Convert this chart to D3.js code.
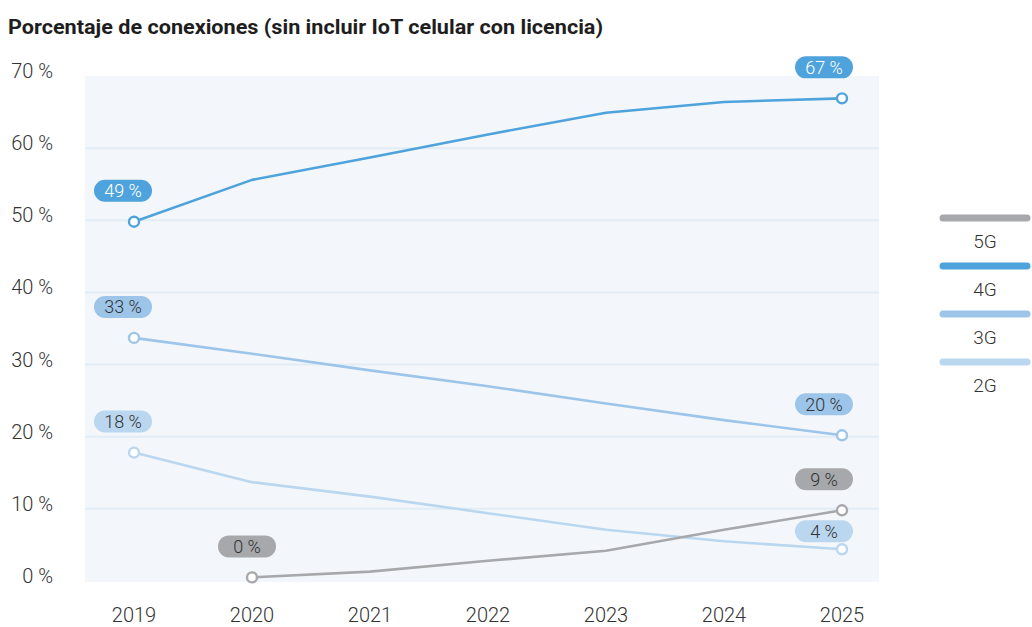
<!DOCTYPE html>
<html><head><meta charset="utf-8">
<script src="https://cdn.jsdelivr.net/npm/d3@7"></script>
<style>
body{margin:0;background:#fff;}
svg{display:block;}
</style></head>
<body><svg id="c" width="1032" height="627"></svg>
<script>
const title = "Porcentaje de conexiones (sin incluir IoT celular con licencia)";
const years = ["2019","2020","2021","2022","2023","2024","2025"];
const yTicks = [0,10,20,30,40,50,60,70];
const seriesNames = ["5G","4G","3G","2G"];
const s5G = [null,0.5,1.3,2.8,4.2,7.1,9.8];
const s4G = [49.8,55.6,58.7,61.9,64.9,66.4,66.9];
const s3G = [33.7,31.5,29.2,27.0,24.6,22.3,20.2];
const s2G = [17.8,13.7,11.7,9.4,7.1,5.5,4.4];
const labels5G = ["0 %","9 %"];
const labels4G = ["49 %","67 %"];
const labels3G = ["33 %","20 %"];
const labels2G = ["18 %","4 %"];
const colors = {"5G":"#a6a8ab","4G":"#4fa3dc","3G":"#9cc5e9","2G":"#bad7ef"};
const pillText = {"5G":"#333","4G":"#fff","3G":"#333","2G":"#333"};

const series = [
  {name:"5G", values:s5G, labels:labels5G},
  {name:"4G", values:s4G, labels:labels4G},
  {name:"3G", values:s3G, labels:labels3G},
  {name:"2G", values:s2G, labels:labels2G}
];

const svg = d3.select("#c");
const FONT = "'Roboto',sans-serif";
const x = d3.scalePoint().domain(years).range([134,842]);
const y = d3.scaleLinear().domain([0,70]).range([581,76]);

svg.append("text").attr("x",8).attr("y",34).text(title)
  .attr("font-family",FONT).attr("font-weight",700).attr("font-size",20).attr("fill","#1e1e1e")
  .attr("textLength",595).attr("lengthAdjust","spacingAndGlyphs");

svg.append("rect").attr("x",85).attr("y",76).attr("width",794).attr("height",506).attr("fill","#f3f7fb");
svg.append("g").selectAll("line").data(yTicks.filter(d=>d>0&&d<70)).join("line")
  .attr("x1",85).attr("x2",879).attr("y1",d=>y(d)).attr("y2",d=>y(d))
  .attr("stroke","#e1ecf7").attr("stroke-width",2);

svg.append("g").selectAll("text").data(yTicks).join("text")
  .attr("x",53).attr("y",d=>y(d)-5).attr("dy","0.35em").attr("text-anchor","end")
  .text(d=>d+" %").attr("font-family",FONT).attr("font-weight",300).attr("font-size",20).attr("fill","#333");

svg.append("g").selectAll("text").data(years).join("text")
  .attr("x",d=>x(d)).attr("y",615).attr("dy","0.35em").attr("text-anchor","middle")
  .text(d=>d).attr("font-family",FONT).attr("font-weight",300).attr("font-size",20).attr("fill","#333");

const line = d3.line().defined(d=>d.v!=null).x(d=>x(d.yr)).y(d=>y(d.v));

const order = ["2G","3G","5G","4G"];
order.forEach(n=>{
  const s = series.find(t=>t.name===n);
  const pts = s.values.map((v,i)=>({yr:years[i],v}));
  svg.append("path").datum(pts).attr("d",line).attr("fill","none")
    .attr("stroke",colors[n]).attr("stroke-width",2.6).attr("stroke-linejoin","round");
  const valid = pts.filter(d=>d.v!=null);
  const ends = [valid[0], valid[valid.length-1]];
  svg.append("g").selectAll("circle").data(ends).join("circle")
    .attr("cx",d=>x(d.yr)).attr("cy",d=>y(d.v)).attr("r",5)
    .attr("fill","#fff").attr("stroke",colors[n]).attr("stroke-width",2.4);
  ends.forEach((d,k)=>{
    const idx = years.indexOf(d.yr);
    const dx = idx===0 ? -11 : (idx===years.length-1 ? -18 : -5);
    const dy = (n==="2G" && k===1) ? -18 : -31;
    const cx = x(d.yr)+dx, cy = y(d.v)+dy;
    const g = svg.append("g");
    g.append("rect").attr("x",cx-29).attr("y",cy-11).attr("width",58).attr("height",22)
      .attr("rx",11).attr("fill",colors[n]);
    g.append("text").attr("x",cx).attr("y",cy).attr("dy","0.36em").attr("text-anchor","middle")
      .text(s.labels[k]).attr("font-family",FONT).attr("font-weight",300).attr("font-size",18)
      .attr("fill",pillText[n]);
  });
});

const lg = svg.append("g");
seriesNames.forEach((n,i)=>{
  const yy = 218 + i*48;
  lg.append("line").attr("x1",943).attr("x2",1027).attr("y1",yy).attr("y2",yy)
    .attr("stroke",colors[n]).attr("stroke-width",7).attr("stroke-linecap","round");
  lg.append("text").attr("x",985).attr("y",yy+23).attr("dy","0.35em").attr("text-anchor","middle")
    .text(n).attr("font-family",FONT).attr("font-weight",300).attr("font-size",19).attr("fill","#333");
});
</script></body></html>
